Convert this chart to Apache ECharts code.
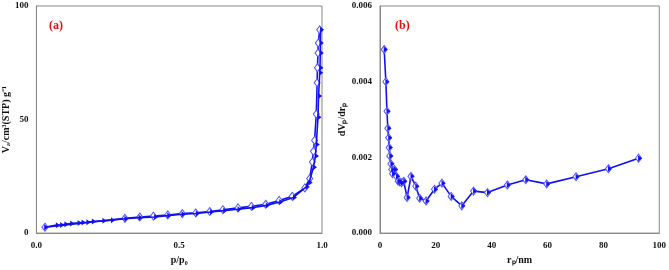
<!DOCTYPE html>
<html>
<head>
<meta charset="utf-8">
<script src="https://cdn.jsdelivr.net/npm/echarts@6/dist/echarts.min.js"></script>
<style>
  html, body { margin: 0; padding: 0; background: #fff; }
  #chart { width: 669px; height: 270px; }
</style>
</head>
<body>
<div id="chart"></div>
<script>
// (a) isotherm, adsorption branch [p/p0, V]
var adsP = [0.029, 0.07, 0.085, 0.10, 0.12, 0.146, 0.16, 0.177, 0.196, 0.233, 0.263, 0.31, 0.36, 0.414, 0.46, 0.51, 0.56, 0.61, 0.656, 0.706, 0.756, 0.805, 0.852, 0.90, 0.945, 0.955, 0.97, 0.977, 0.98, 0.986, 0.988, 0.992, 0.993, 0.994, 0.994, 0.995];
var adsV = [2.6, 3.5, 3.6, 3.9, 4.2, 4.5, 4.7, 4.8, 5.1, 5.4, 5.7, 6.3, 6.8, 7.1, 7.7, 8.3, 8.6, 9.3, 9.9, 10.5, 11.2, 12.2, 13.7, 15.7, 20.4, 22.3, 29, 34, 39, 51, 60.4, 70.6, 72.8, 79.3, 83.7, 89.5];
// (a) desorption branch
var desP = [0.992, 0.987, 0.986, 0.984, 0.983, 0.98, 0.974, 0.97, 0.966, 0.957, 0.94, 0.896, 0.85, 0.803, 0.753, 0.706, 0.653, 0.607, 0.558, 0.511, 0.46, 0.41, 0.362, 0.31, 0.03];
var desV = [89.5, 83.7, 79.3, 72.8, 66.2, 52.4, 40.8, 36, 31.3, 24, 19.9, 16.2, 14.4, 12.7, 11.8, 11.1, 10.3, 9.5, 8.9, 8.6, 8.0, 7.5, 7.1, 6.5, 2.6];
// (b) pore size distribution
var poreR = [1.5, 2.1, 2.5, 2.8, 3.1, 3.3, 3.5, 3.9, 4.2, 4.5, 5.2, 5.9, 6.5, 7.1, 7.7, 8.5, 9.7, 11.1, 12.8, 14.2, 16.5, 19.5, 22.2, 25.5, 29.3, 33.5, 38.5, 45.6, 52.2, 59.7, 70.2, 81.8, 92.6];
var poreD = [0.00485, 0.0040, 0.00322, 0.00277, 0.00252, 0.00226, 0.00204, 0.00183, 0.00168, 0.00157, 0.00168, 0.0015, 0.00137, 0.00135, 0.00133, 0.00137, 0.00094, 0.0015, 0.00124, 0.00092, 0.00085, 0.00116, 0.00132, 0.00097, 0.00072, 0.00111, 0.00107, 0.00127, 0.00141, 0.0013, 0.00149, 0.0017, 0.00198];

var blue = '#1010f0';
var font = 'Liberation Serif';
var zip = function (a, b) { return a.map(function (v, i) { return [v, b[i]]; }); };

var chart = echarts.init(document.getElementById('chart'));

const axisStyle = (extra) => Object.assign({
  axisLine: { show: true, onZero: false, lineStyle: { color: '#888', width: 1 } },
  axisTick: { show: false },
  splitLine: { show: false },
  axisLabel: { color: '#111', fontFamily: font, fontWeight: 'bold', fontSize: 9 },
  nameTextStyle: { color: '#111', fontFamily: font, fontWeight: 'bold', fontSize: 10 }
}, extra);

const openDiamond = (data, xi, yi) => ({
  type: 'line', xAxisIndex: xi, yAxisIndex: yi, data: data,
  symbol: 'diamond', symbolSize: [6, 8], showSymbol: true,
  lineStyle: { color: blue, width: 1.6 },
  itemStyle: { color: '#fff', borderColor: '#5050ff', borderWidth: 1 },
  z: 3
});
const halfFilled = (data, xi, yi, noLine) => ({
  type: 'line', xAxisIndex: xi, yAxisIndex: yi, data: data,
  symbol: 'triangle', symbolRotate: -90, symbolSize: [6, 4], symbolOffset: [1.5, 0],
  lineStyle: { color: blue, width: noLine ? 0 : 1.6 },
  itemStyle: { color: blue },
  z: 4
});

chart.setOption({
  animation: false,
  title: [
    { text: '(a)', left: 44, top: 15, textStyle: { color: '#e01010', fontFamily: font, fontWeight: 'bold', fontSize: 12 } },
    { text: '(b)', left: 390, top: 15, textStyle: { color: '#e01010', fontFamily: font, fontWeight: 'bold', fontSize: 12 } }
  ],
  grid: [
    { left: 33, top: 6, width: 289, height: 229, show: true, borderColor: '#888', borderWidth: 1 },
    { left: 380, top: 6, width: 282, height: 229, show: true, borderColor: '#888', borderWidth: 1 }
  ],
  xAxis: [
    axisStyle({ type: 'value', gridIndex: 0, min: 0, max: 1, interval: 0.5, name: 'p/p₀', nameLocation: 'middle', nameGap: 21,
      axisLabel: { color: '#111', fontFamily: font, fontWeight: 'bold', fontSize: 9, formatter: v => v.toFixed(1) } }),
    axisStyle({ type: 'value', gridIndex: 1, min: 0, max: 100, interval: 20, name: 'rₚ/nm', nameLocation: 'middle', nameGap: 21 })
  ],
  yAxis: [
    axisStyle({ type: 'value', gridIndex: 0, min: 0, max: 100, interval: 50, name: 'Vₐ/cm³(STP) g⁻¹', nameLocation: 'middle', nameGap: 23 }),
    axisStyle({ type: 'value', gridIndex: 1, min: 0, max: 0.006, interval: 0.002, name: 'dVₚ/drₚ', nameLocation: 'middle', nameGap: 31,
      axisLabel: { color: '#111', fontFamily: font, fontWeight: 'bold', fontSize: 9, formatter: v => v.toFixed(3) } })
  ],
  series: [
    openDiamond(zip(desP, desV), 0, 0),
    halfFilled(zip(adsP, adsV), 0, 0),
    openDiamond(zip(poreR, poreD), 1, 1),
    halfFilled(zip(poreR, poreD), 1, 1, true)
  ]
});
</script>
</body>
</html>
